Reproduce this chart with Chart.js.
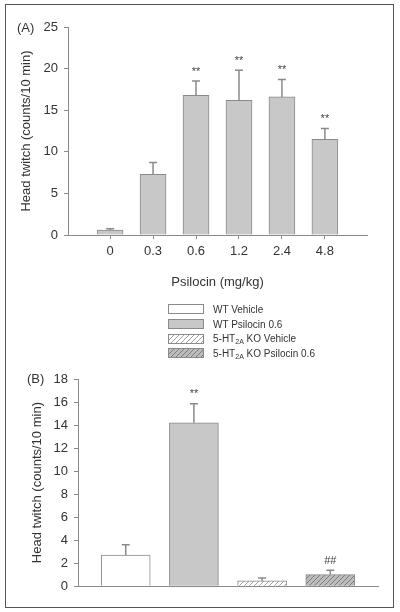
<!DOCTYPE html>
<html>
<head>
<meta charset="utf-8">
<script src="https://cdn.jsdelivr.net/npm/chart.js@4.4.1/dist/chart.umd.min.js"></script>
<style>
  html, body { margin: 0; padding: 0; background: #fff; }
  body { width: 400px; height: 612px; position: relative; overflow: hidden;
         font-family: "Liberation Sans", Arial, sans-serif; color: #333; }
  #frame { position: absolute; left: 5px; top: 4px; width: 389px; height: 604px;
           border: 1.5px solid #555; box-sizing: border-box; }
  canvas { position: absolute; left: 0; }
  #cA { top: 0; }
  #cB { top: 360px; }
  .panel { position: absolute; font-size: 13px; line-height: 15px; }
  #legend { position: absolute; left: 168px; top: 302px; font-size: 10px; }
  #legend .row { height: 14.7px; display: flex; align-items: center; }
  #legend .box { width: 36px; height: 10px; border: 1px solid #8a8a8a; box-sizing: border-box; margin-right: 9px; }
  #legend sub { font-size: 7px; vertical-align: -2px; line-height: 0; }
</style>
</head>
<body>
<div id="frame"></div>
<canvas id="cA" width="400" height="296"></canvas>
<canvas id="cB" width="400" height="240"></canvas>
<div class="panel" style="left:17px;top:20px">(A)</div>
<div class="panel" style="left:27px;top:371px">(B)</div>
<div id="legend"></div>
<script>
// panel A: dose response
const dosesA = ['0', '0.3', '0.6', '1.2', '2.4', '4.8'];
const meansA = [0.6, 7.3, 16.8, 16.2, 16.6, 11.5];
const semA = [0.15, 1.4, 1.7, 3.6, 2.1, 1.3];
const sigA = ['', '', '**', '**', '**', '**'];

// panel B: genotype x treatment
const groupsB = ['WT Vehicle', 'WT Psilocin 0.6', '5-HT2A KO Vehicle', '5-HT2A KO Psilocin 0.6'];
const meansB = [2.7, 14.2, 0.46, 1.0];
const semB = [0.9, 1.65, 0.26, 0.38];
const sigB = ['', '**', '', '##'];

const FONT = '"Liberation Sans", Arial, sans-serif';
const TEXT = '#333';
const LINE = '#8a8a8a';

function hatchTile(bg, line) {
    const c = document.createElement('canvas');
    c.width = 5; c.height = 5;
    const g = c.getContext('2d');
    g.fillStyle = bg;
    g.fillRect(0, 0, 5, 5);
    g.strokeStyle = line;
    g.lineWidth = 1;
    g.beginPath();
    g.moveTo(-1, 6); g.lineTo(6, -1);
    g.moveTo(-1, 1); g.lineTo(1, -1);
    g.moveTo(4, 6); g.lineTo(6, 4);
    g.stroke();
    return c;
}

const errorBars = {
    id: 'errorBars',
    afterDatasetsDraw(chart, args, opts) {
        const ctx = chart.ctx;
        const y = chart.scales.y;
        const vals = chart.data.datasets[0].data;
        ctx.save();
        chart.getDatasetMeta(0).data.forEach((bar, i) => {
            const top = y.getPixelForValue(vals[i].y + opts.sem[i]);
            ctx.strokeStyle = LINE;
            ctx.lineWidth = 1.5;
            ctx.beginPath();
            ctx.moveTo(bar.x, bar.y);
            ctx.lineTo(bar.x, top);
            ctx.moveTo(bar.x - opts.cap, top);
            ctx.lineTo(bar.x + opts.cap, top);
            ctx.stroke();
            if (opts.marks[i]) {
                ctx.fillStyle = '#444';
                ctx.font = '11px ' + FONT;
                ctx.textAlign = 'center';
                ctx.textBaseline = 'bottom';
                ctx.fillText(opts.marks[i], bar.x, top - 4);
            }
        });
        ctx.restore();
    }
};

const font13 = { family: FONT, size: 13 };

new Chart(document.getElementById('cA'), {
    type: 'bar',
    data: {
        datasets: [{
            data: meansA.map((v, i) => ({ x: i, y: v })),
            backgroundColor: '#c8c8c8',
            borderColor: LINE,
            borderWidth: 1,
            barThickness: 26,
        }],
    },
    options: {
        responsive: false,
        animation: false,
        layout: { padding: { left: 15, top: 27, right: 33, bottom: 2 } },
        plugins: {
            legend: { display: false },
            tooltip: { enabled: false },
            errorBars: { sem: semA, marks: sigA, cap: 4 },
        },
        scales: {
            x: {
                type: 'linear', min: -0.98, max: 5.98, offset: false,
                afterBuildTicks: s => { s.ticks = dosesA.map((d, i) => ({ value: i })); },
                afterFit: s => { s.height = 59; },
                ticks: { callback: v => dosesA[v], autoSkip: false, maxRotation: 0, padding: 5, color: TEXT, font: font13 },
                grid: { offset: false, drawOnChartArea: false, tickLength: 4, color: LINE },
                border: { color: LINE },
                title: { display: true, text: 'Psilocin (mg/kg)', color: TEXT, font: font13 },
            },
            y: {
                min: 0, max: 25,
                afterFit: s => { s.width = 53; },
                ticks: { stepSize: 5, padding: 6, color: TEXT, font: font13 },
                grid: { drawOnChartArea: false, tickLength: 4, color: LINE },
                border: { color: LINE },
                title: { display: true, text: 'Head twitch (counts/10 min)', color: TEXT, font: font13 },
            },
        },
    },
    plugins: [errorBars],
});

const ctxB = document.getElementById('cB').getContext('2d');
const tileV = hatchTile('#ffffff', '#a0a0a0');
const tileK = hatchTile('#bcbcbc', '#7c7c7c');
const fillsB = ['#ffffff', '#c8c8c8', ctxB.createPattern(tileV, 'repeat'), ctxB.createPattern(tileK, 'repeat')];
const cssFillsB = ['#ffffff', '#c8c8c8', 'url(' + tileV.toDataURL() + ')', 'url(' + tileK.toDataURL() + ')'];

new Chart(ctxB, {
    type: 'bar',
    data: {
        labels: groupsB,
        datasets: [{
            data: meansB.map((v, i) => ({ x: i, y: v })),
            backgroundColor: fillsB,
            borderColor: LINE,
            borderWidth: 1,
            barThickness: 49,
        }],
    },
    options: {
        responsive: false,
        animation: false,
        layout: { padding: { left: 26, top: 19, right: 22, bottom: 12 } },
        plugins: {
            legend: { display: false },
            tooltip: { enabled: false },
            errorBars: { sem: semB, marks: sigB, cap: 4 },
        },
        scales: {
            x: {
                type: 'linear', min: -0.7, max: 3.7, offset: false,
                afterFit: s => { s.height = 0; },
                ticks: { display: false },
                grid: { display: false, offset: false },
                border: { color: LINE },
            },
            y: {
                min: 0, max: 18,
                afterFit: s => { s.width = 52; },
                ticks: { stepSize: 2, padding: 6, color: TEXT, font: font13 },
                grid: { drawOnChartArea: false, tickLength: 4, color: LINE },
                border: { color: LINE },
                title: { display: true, text: 'Head twitch (counts/10 min)', color: TEXT, font: font13 },
            },
        },
    },
    plugins: [errorBars],
});

// legend for panel B
const legend = document.getElementById('legend');
groupsB.forEach((g, i) => {
    const row = document.createElement('div');
    row.className = 'row';
    const box = document.createElement('span');
    box.className = 'box';
    box.style.background = cssFillsB[i];
    const txt = document.createElement('span');
    txt.innerHTML = g.replace('HT2A', 'HT<sub>2A</sub>');
    row.appendChild(box);
    row.appendChild(txt);
    legend.appendChild(row);
});
</script>
</body>
</html>
